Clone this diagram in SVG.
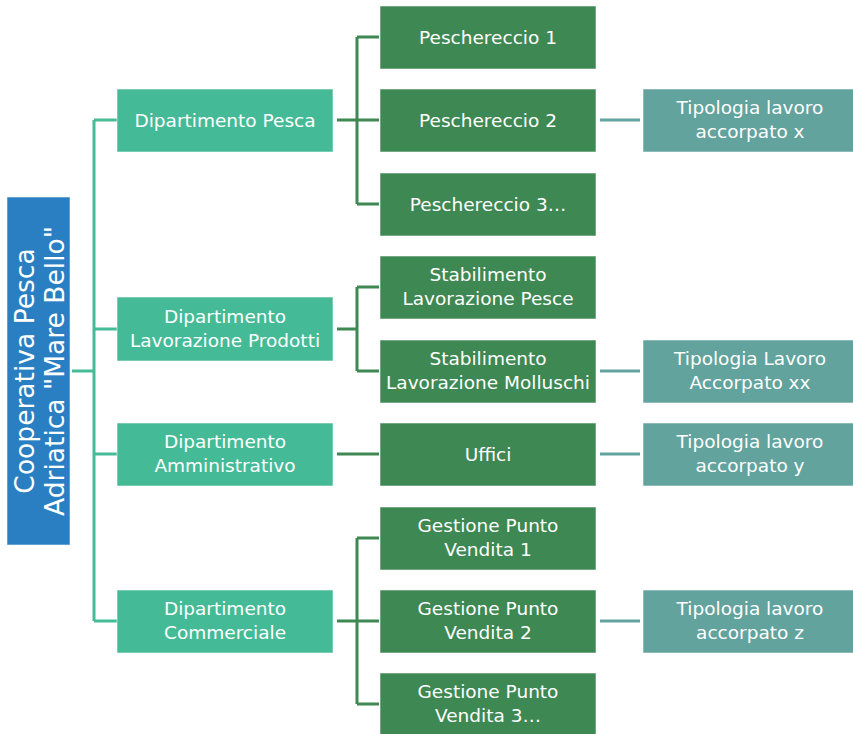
<svg xmlns="http://www.w3.org/2000/svg" width="853" height="734" viewBox="0 0 853 734">
<style>
.box{stroke:#ffffff;stroke-opacity:0.55;stroke-width:1}
.root{fill:#2A7FC3}
.l1{fill:#44BB96}
.l2{fill:#3E8853}
.l3{fill:#62A39D}
text{font-family:"DejaVu Sans","Liberation Sans",sans-serif;font-size:18.5px;fill:#ffffff;text-anchor:middle}
.rt{font-size:26.5px}
.c1{stroke:#45BC96;stroke-width:3;fill:none}
.c2{stroke:#3E8853;stroke-width:3;fill:none}
.c3{stroke:#62A39D;stroke-width:3;fill:none}
</style>
<rect width="853" height="734" fill="#ffffff"/>
<g id="connectors">
<path class="c1" d="M72 371H94M94 120V621M94 120H117M94 329H117M94 454H117M94 621H117"/>
<path class="c2" d="M337 120H379M357 37V204M357 37H379M357 204H379"/>
<path class="c2" d="M337 329H357M357 287V371M357 287H379M357 371H379"/>
<path class="c2" d="M337 454H379"/>
<path class="c2" d="M337 621H379M357 538V704M357 538H379M357 704H379"/>
<path class="c3" d="M600 120H640M600 371H640M600 454H640M600 621H640"/>
</g>
<g id="root">
<rect class="box root" x="7" y="197" width="63" height="348"/>
<g transform="translate(38.5 371) rotate(-90)">
<text class="rt" x="0" y="-5">Cooperativa Pesca</text>
<text class="rt" x="0" y="25">Adriatica "Mare Bello"</text>
</g>
</g>
<g id="dip-pesca"><rect class="box l1" x="117" y="89" width="216" height="63"/><text x="225" y="127">Dipartimento Pesca</text></g>
<g id="dip-lavorazione"><rect class="box l1" x="117" y="297" width="216" height="64"/><text x="225" y="323">Dipartimento</text><text x="225" y="347">Lavorazione Prodotti</text></g>
<g id="dip-amministrativo"><rect class="box l1" x="117" y="423" width="216" height="63"/><text x="225" y="448">Dipartimento</text><text x="225" y="472">Amministrativo</text></g>
<g id="dip-commerciale"><rect class="box l1" x="117" y="590" width="216" height="63"/><text x="225" y="615">Dipartimento</text><text x="225" y="639">Commerciale</text></g>
<g id="peschereccio1"><rect class="box l2" x="380" y="6" width="216" height="63"/><text x="488" y="44">Peschereccio 1</text></g>
<g id="peschereccio2"><rect class="box l2" x="380" y="89" width="216" height="63"/><text x="488" y="127">Peschereccio 2</text></g>
<g id="peschereccio3"><rect class="box l2" x="380" y="173" width="216" height="63"/><text x="488" y="211">Peschereccio 3…</text></g>
<g id="stab-pesce"><rect class="box l2" x="380" y="256" width="216" height="63"/><text x="488" y="281">Stabilimento</text><text x="488" y="305">Lavorazione Pesce</text></g>
<g id="stab-molluschi"><rect class="box l2" x="380" y="340" width="216" height="63"/><text x="488" y="365">Stabilimento</text><text x="488" y="389">Lavorazione Molluschi</text></g>
<g id="uffici"><rect class="box l2" x="380" y="423" width="216" height="63"/><text x="488" y="461">Uffici</text></g>
<g id="gpv1"><rect class="box l2" x="380" y="507" width="216" height="63"/><text x="488" y="532">Gestione Punto</text><text x="488" y="556">Vendita 1</text></g>
<g id="gpv2"><rect class="box l2" x="380" y="590" width="216" height="63"/><text x="488" y="615">Gestione Punto</text><text x="488" y="639">Vendita 2</text></g>
<g id="gpv3"><rect class="box l2" x="380" y="673" width="216" height="66"/><text x="488" y="698">Gestione Punto</text><text x="488" y="722">Vendita 3…</text></g>
<g id="tip-x"><rect class="box l3" x="643" y="89" width="214" height="63"/><text x="750" y="114">Tipologia lavoro</text><text x="750" y="138">accorpato x</text></g>
<g id="tip-xx"><rect class="box l3" x="643" y="340" width="214" height="63"/><text x="750" y="365">Tipologia Lavoro</text><text x="750" y="389">Accorpato xx</text></g>
<g id="tip-y"><rect class="box l3" x="643" y="423" width="214" height="63"/><text x="750" y="448">Tipologia lavoro</text><text x="750" y="472">accorpato y</text></g>
<g id="tip-z"><rect class="box l3" x="643" y="590" width="214" height="63"/><text x="750" y="615">Tipologia lavoro</text><text x="750" y="639">accorpato z</text></g>
</svg>
